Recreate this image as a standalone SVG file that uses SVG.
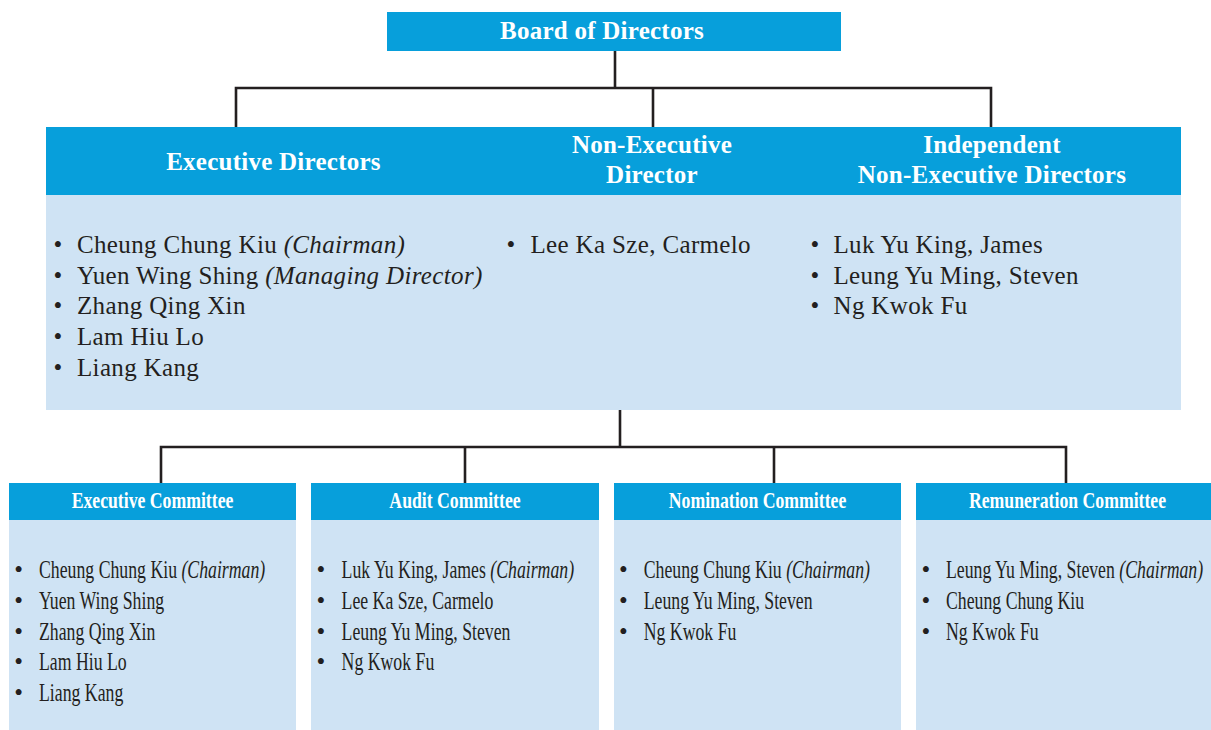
<svg xmlns="http://www.w3.org/2000/svg" width="1211" height="730" viewBox="0 0 1211 730">
  <style>
    .hd { fill: #079FDB; }
    .bd { fill: #CFE3F4; }
    .conn { fill: none; stroke: #231F20; stroke-width: 2.6; }
    .ht { font-family: "Liberation Serif", "Times New Roman", serif; font-weight: bold; font-size: 25px; letter-spacing: 0.25px; fill: #FFFFFF; text-anchor: middle; }
    .ct { font-family: "Liberation Serif", "Times New Roman", serif; font-weight: bold; font-size: 23px; fill: #FFFFFF; text-anchor: middle; }
    .tx { font-family: "Liberation Serif", "Times New Roman", serif; font-size: 25px; fill: #231F20; }
    .up { letter-spacing: 0.35px; }
    .it { font-style: italic; }
  </style>

  <rect width="1211" height="730" fill="#FFFFFF"/>

  <!-- connectors -->
  <g id="connectors">
    <path class="conn" d="M615 51 V88"/>
    <path class="conn" d="M236 127 V88 H991 V127"/>
    <path class="conn" d="M653 88 V127"/>
    <path class="conn" d="M620 410 V447"/>
    <path class="conn" d="M161 483 V447 H1066 V483"/>
    <path class="conn" d="M465 447 V483"/>
    <path class="conn" d="M774 447 V483"/>
  </g>

  <!-- top node -->
  <g id="board">
    <rect class="hd" x="387" y="12" width="454" height="39"/>
    <text class="ht" x="602" y="39">Board of Directors</text>
  </g>

  <!-- director categories -->
  <g id="directors">
    <rect class="hd" x="46" y="127" width="1135" height="68"/>
    <rect class="bd" x="46" y="195" width="1135" height="215"/>
  </g>

  <g id="executive-directors">
    <text class="ht" x="273.5" y="170">Executive Directors</text>
    <g class="tx">
      <text x="53.6" y="253">•</text>
      <text x="53.6" y="284">•</text>
      <text x="53.6" y="314">•</text>
      <text x="53.6" y="345">•</text>
      <text x="53.6" y="376">•</text>
    </g>
    <g class="tx up">
      <text x="77" y="253">Cheung Chung Kiu <tspan class="it">(Chairman)</tspan></text>
      <text x="77" y="284">Yuen Wing Shing <tspan class="it">(Managing Director)</tspan></text>
      <text x="77" y="314">Zhang Qing Xin</text>
      <text x="77" y="345">Lam Hiu Lo</text>
      <text x="77" y="376">Liang Kang</text>
    </g>
  </g>

  <g id="non-executive-director">
    <text class="ht" x="652" y="153">Non-Executive</text>
    <text class="ht" x="652" y="183">Director</text>
    <text class="tx" x="506.6" y="253">•</text>
    <text class="tx up" x="530.5" y="253">Lee Ka Sze, Carmelo</text>
  </g>

  <g id="independent-directors">
    <text class="ht" x="992" y="153">Independent</text>
    <text class="ht" x="992" y="183">Non-Executive Directors</text>
    <g class="tx">
      <text x="810.6" y="253">•</text>
      <text x="810.6" y="284">•</text>
      <text x="810.6" y="314">•</text>
    </g>
    <g class="tx up">
      <text x="833.5" y="253">Luk Yu King, James</text>
      <text x="833.5" y="284">Leung Yu Ming, Steven</text>
      <text x="833.5" y="314">Ng Kwok Fu</text>
    </g>
  </g>

  <!-- committees -->
  <g id="executive-committee">
    <rect class="hd" x="9" y="483" width="287" height="37"/>
    <rect class="bd" x="9" y="520" width="287" height="210"/>
    <text class="ct" transform="translate(152.5,508) scale(0.77,1)">Executive Committee</text>
    <g class="tx">
      <text x="14.3" y="578">•</text>
      <text x="14.3" y="609">•</text>
      <text x="14.3" y="640">•</text>
      <text x="14.3" y="670">•</text>
      <text x="14.3" y="701">•</text>
    </g>
    <g class="tx" transform="translate(39,0) scale(0.71,1)">
      <text x="0" y="578">Cheung Chung Kiu <tspan class="it">(Chairman)</tspan></text>
      <text x="0" y="609">Yuen Wing Shing</text>
      <text x="0" y="640">Zhang Qing Xin</text>
      <text x="0" y="670">Lam Hiu Lo</text>
      <text x="0" y="701">Liang Kang</text>
    </g>
  </g>

  <g id="audit-committee">
    <rect class="hd" x="311" y="483" width="288" height="37"/>
    <rect class="bd" x="311" y="520" width="288" height="210"/>
    <text class="ct" transform="translate(455,508) scale(0.77,1)">Audit Committee</text>
    <g class="tx">
      <text x="316.6" y="578">•</text>
      <text x="316.6" y="609">•</text>
      <text x="316.6" y="640">•</text>
      <text x="316.6" y="670">•</text>
    </g>
    <g class="tx" transform="translate(341.6,0) scale(0.71,1)">
      <text x="0" y="578">Luk Yu King, James <tspan class="it">(Chairman)</tspan></text>
      <text x="0" y="609">Lee Ka Sze, Carmelo</text>
      <text x="0" y="640">Leung Yu Ming, Steven</text>
      <text x="0" y="670">Ng Kwok Fu</text>
    </g>
  </g>

  <g id="nomination-committee">
    <rect class="hd" x="614" y="483" width="287" height="37"/>
    <rect class="bd" x="614" y="520" width="287" height="210"/>
    <text class="ct" transform="translate(757.5,508) scale(0.77,1)">Nomination Committee</text>
    <g class="tx">
      <text x="619.1" y="578">•</text>
      <text x="619.1" y="609">•</text>
      <text x="619.1" y="640">•</text>
    </g>
    <g class="tx" transform="translate(643.7,0) scale(0.71,1)">
      <text x="0" y="578">Cheung Chung Kiu <tspan class="it">(Chairman)</tspan></text>
      <text x="0" y="609">Leung Yu Ming, Steven</text>
      <text x="0" y="640">Ng Kwok Fu</text>
    </g>
  </g>

  <g id="remuneration-committee">
    <rect class="hd" x="916" y="483" width="303" height="37"/>
    <rect class="bd" x="916" y="520" width="303" height="210"/>
    <text class="ct" transform="translate(1067.5,508) scale(0.77,1)">Remuneration Committee</text>
    <g class="tx">
      <text x="921.6" y="578">•</text>
      <text x="921.6" y="609">•</text>
      <text x="921.6" y="640">•</text>
    </g>
    <g class="tx" transform="translate(946,0) scale(0.71,1)">
      <text x="0" y="578">Leung Yu Ming, Steven <tspan class="it">(Chairman)</tspan></text>
      <text x="0" y="609">Cheung Chung Kiu</text>
      <text x="0" y="640">Ng Kwok Fu</text>
    </g>
  </g>
</svg>
